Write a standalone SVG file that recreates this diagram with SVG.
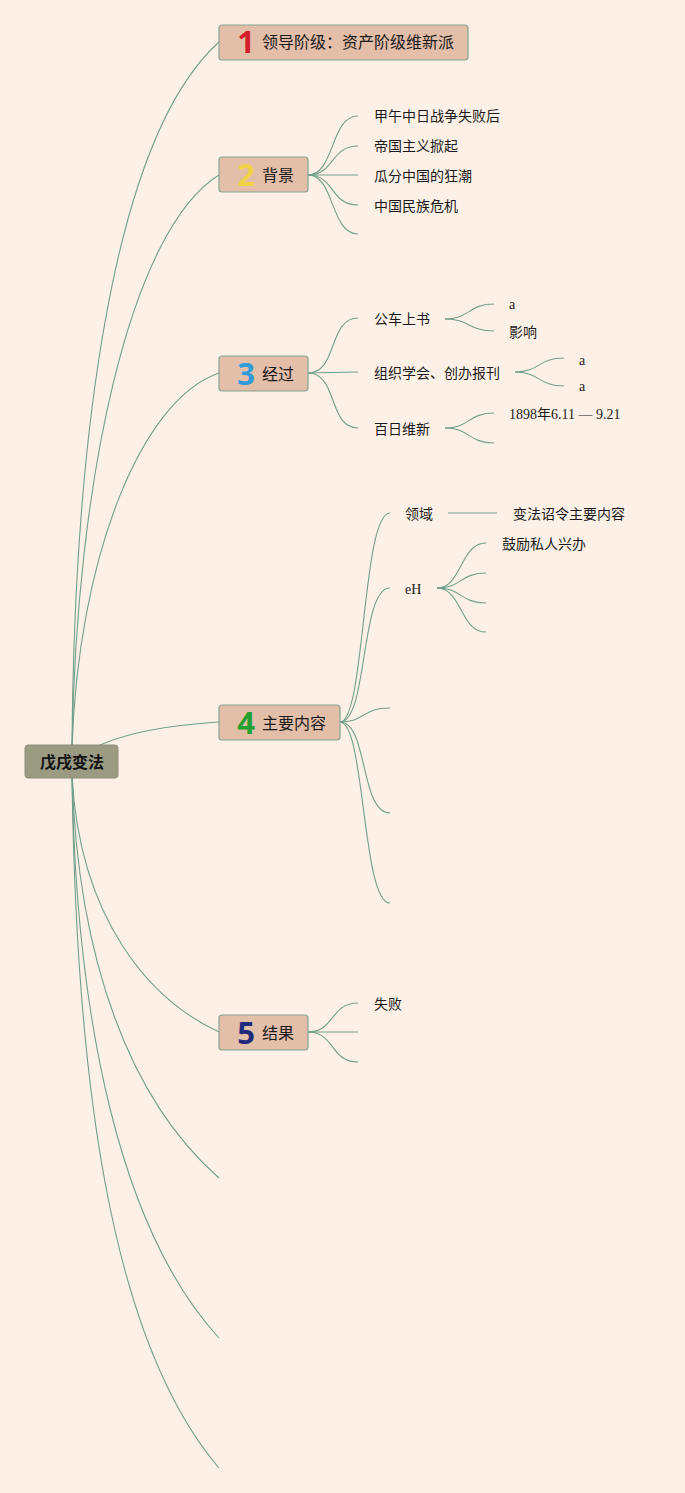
<svg xmlns="http://www.w3.org/2000/svg" width="685" height="1493" viewBox="0 0 685 1493">
<style>
.c{fill:none;stroke:#6f9f8b;stroke-width:1.1}
.topic{fill:#e3bea8;stroke:#86a593;stroke-width:1.2}
.tl{font-family:"Noto Sans CJK SC","Noto Sans",sans-serif;font-size:16px;fill:#1a1a1a}
.st{font-family:"Noto Sans CJK SC","Noto Sans",sans-serif;font-size:14px;fill:#1a1a1a}
.sr{font-family:"Liberation Serif","Noto Sans CJK SC",serif;font-size:14px;fill:#1a1a1a}
.num{font-family:"Noto Sans","DejaVu Sans",sans-serif;font-size:31px;font-weight:bold;text-anchor:middle}
</style>
<rect width="685" height="1493" fill="#fdf1e7"/>
<g id="connectors">
<!-- root to topics -->
<path class="c" d="M72,748 C74,450 110,140 219,42"/>
<path class="c" d="M72,748 C76,480 130,230 219,175"/>
<path class="c" d="M72,748 C78,560 140,400 219,373"/>
<path class="c" d="M100,745 C130,732 170,725 219,722"/>
<path class="c" d="M72,776 C80,920 150,1000 219,1032"/>
<path class="c" d="M72,776 C78,960 130,1100 219,1178"/>
<path class="c" d="M72,776 C76,1020 120,1230 219,1338"/>
<path class="c" d="M72,776 C76,1080 110,1340 219,1468"/>
<!-- topic 2 -->
<path class="c" d="M308,175 C335,175 330,116 358,116"/>
<path class="c" d="M308,175 C335,175 330,146 358,146"/>
<path class="c" d="M308,175 L358,175"/>
<path class="c" d="M308,175 C335,175 330,205 358,205"/>
<path class="c" d="M308,175 C335,175 330,234 358,234"/>
<!-- topic 3 -->
<path class="c" d="M308,373 C338,373 328,318 358,318"/>
<path class="c" d="M308,373 C335,373 330,372 358,372"/>
<path class="c" d="M308,373 C338,373 328,428 358,428"/>
<path class="c" d="M445,319 C470,319 468,304 494,304"/>
<path class="c" d="M445,319 C470,319 468,331 494,331"/>
<path class="c" d="M515,372 C540,372 538,358 564,358"/>
<path class="c" d="M515,372 C540,372 538,386 564,386"/>
<path class="c" d="M445,428 C470,428 468,413 494,413"/>
<path class="c" d="M445,428 C470,428 468,443 494,443"/>
<!-- topic 4 -->
<path class="c" d="M340,722 C365,722 362,513 390,513"/>
<path class="c" d="M340,722 C368,722 360,588 390,588"/>
<path class="c" d="M340,722 C365,722 362,708 390,708"/>
<path class="c" d="M340,722 C368,722 360,813 390,813"/>
<path class="c" d="M340,722 C365,722 362,903 390,903"/>
<path class="c" d="M448,513 L497,513"/>
<path class="c" d="M437,588 C462,588 460,543 486,543"/>
<path class="c" d="M437,588 C462,588 460,573 486,573"/>
<path class="c" d="M437,588 C462,588 460,603 486,603"/>
<path class="c" d="M437,588 C462,588 460,632 486,632"/>
<!-- topic 5 -->
<path class="c" d="M308,1032 C335,1032 330,1003 358,1003"/>
<path class="c" d="M308,1032 L358,1032"/>
<path class="c" d="M308,1032 C335,1032 330,1062 358,1062"/>
</g>
<g id="root">
<rect x="25" y="745" width="93" height="33" rx="3" fill="#9b9b84" stroke="#8e8e78"/>
<text x="72" y="768" text-anchor="middle" font-family="Noto Sans CJK SC,sans-serif" font-size="16" font-weight="bold" fill="#111">戊戌变法</text>
</g>
<g id="t1">
<rect class="topic" x="219" y="25" width="249" height="35" rx="3"/>
<text class="num" x="246" y="53" fill="#d21f2b">1</text>
<text class="tl" x="262" y="48">领导阶级：资产阶级维新派</text>
</g>
<g id="t2">
<rect class="topic" x="219" y="157" width="89" height="35" rx="3"/>
<text class="num" x="246" y="186" fill="#f2d245">2</text>
<text class="tl" x="262" y="181">背景</text>
</g>
<g id="t2c">
<text class="st" x="374" y="121">甲午中日战争失败后</text>
<text class="st" x="374" y="151">帝国主义掀起</text>
<text class="st" x="374" y="181">瓜分中国的狂潮</text>
<text class="st" x="374" y="211">中国民族危机</text>
</g>
<g id="t3">
<rect class="topic" x="219" y="356" width="89" height="35" rx="3"/>
<text class="num" x="246" y="385" fill="#2f9bd9">3</text>
<text class="tl" x="262" y="380">经过</text>
</g>
<g id="t3c">
<text class="st" x="374" y="324">公车上书</text>
<text class="st" x="374" y="378">组织学会、创办报刊</text>
<text class="st" x="374" y="434">百日维新</text>
<text class="sr" x="509" y="309">a</text>
<text class="st" x="509" y="337">影响</text>
<text class="sr" x="579" y="365">a</text>
<text class="sr" x="579" y="391">a</text>
<text class="sr" x="509" y="419">1898年6.11 — 9.21</text>
</g>
<g id="t4">
<rect class="topic" x="219" y="705" width="121" height="35" rx="3"/>
<text class="num" x="246" y="734" fill="#22a031">4</text>
<text class="tl" x="262" y="729">主要内容</text>
</g>
<g id="t4c">
<text class="st" x="405" y="519">领域</text>
<text class="st" x="513" y="519">变法诏令主要内容</text>
<text class="sr" x="405" y="594">eH</text>
<text class="st" x="502" y="549">鼓励私人兴办</text>
</g>
<g id="t5">
<rect class="topic" x="219" y="1015" width="89" height="35" rx="3"/>
<text class="num" x="246" y="1044" fill="#1f2a7c">5</text>
<text class="tl" x="262" y="1039">结果</text>
</g>
<g id="t5c">
<text class="st" x="374" y="1009">失败</text>
</g>
</svg>
